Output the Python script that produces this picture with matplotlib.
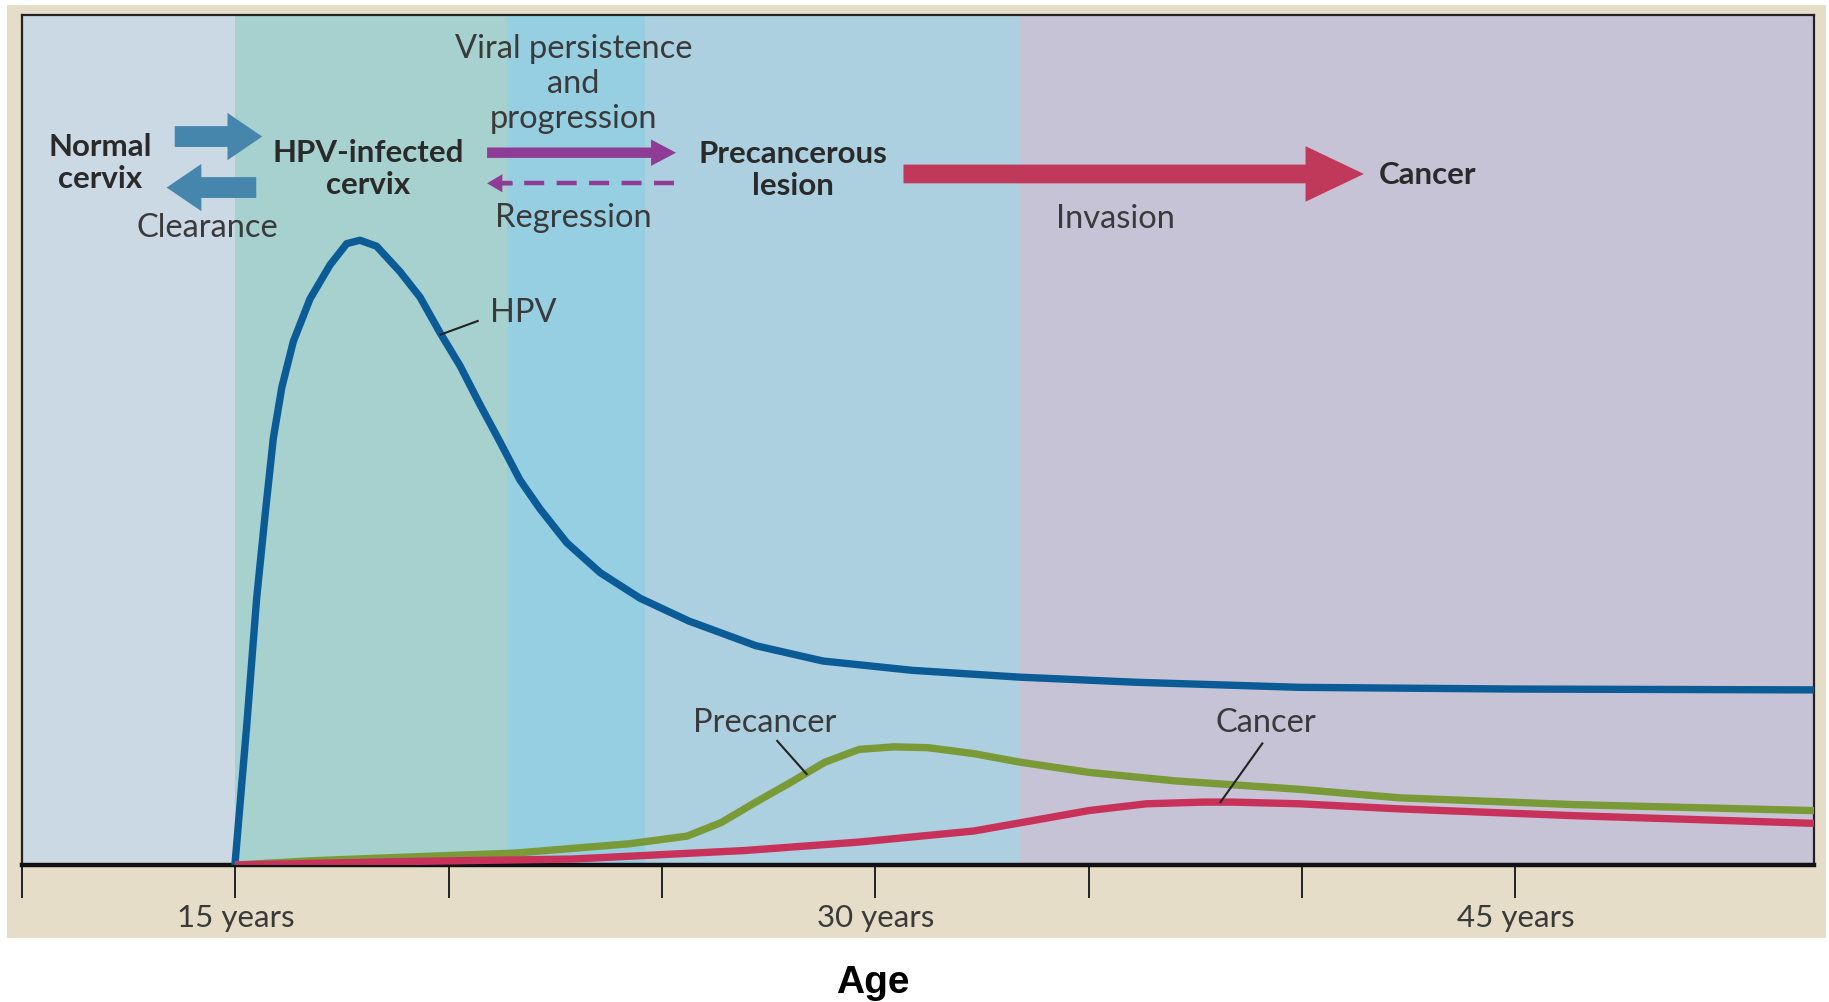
import matplotlib as mpl
import matplotlib.pyplot as plt
from matplotlib.patches import Rectangle

mpl.rcParams['font.family'] = ['Lato', 'DejaVu Sans']

# age (years) and relative prevalence (0-100)
hpv_age = [14.99, 15.27, 15.50, 15.70, 15.89, 16.09, 16.36, 16.75, 17.22, 17.61, 17.92,
           18.31, 18.86, 19.33, 19.80, 20.27, 20.73, 21.20, 21.67, 22.14, 22.77, 23.55,
           24.48, 25.63, 27.20, 28.77, 30.87, 33.38, 36.10, 39.95, 45.0, 52.0]
hpv_val = [0, 16.6, 31.4, 41.3, 50.2, 56.2, 61.6, 66.6, 70.6, 73.1, 73.5,
           72.8, 69.8, 66.8, 62.6, 58.7, 54.2, 49.8, 45.3, 41.9, 37.9, 34.4,
           31.4, 28.7, 25.8, 24.0, 22.9, 22.1, 21.5, 20.9, 20.7, 20.6]

pre_age = [15.0, 16.8, 18.86, 21.55, 24.24, 25.59, 26.39, 27.20, 28.01, 28.82, 29.62,
           30.43, 31.24, 32.31, 33.39, 35.00, 37.02, 39.95, 42.29, 46.39, 52.0]
pre_val = [0, 0.5, 0.9, 1.4, 2.5, 3.4, 5.0, 7.4, 9.7, 12.1, 13.6,
           13.9, 13.8, 13.1, 12.1, 10.9, 9.9, 8.9, 7.9, 7.1, 6.4]

can_age = [15.0, 18.86, 22.89, 26.93, 29.62, 32.31, 33.66, 35.00, 36.35, 37.70, 38.37,
           39.95, 42.29, 46.39, 52.0]
can_val = [0, 0.4, 0.7, 1.7, 2.7, 4.0, 5.2, 6.4, 7.2, 7.4, 7.4,
           7.2, 6.6, 5.8, 4.9]

# background stages (start, end, colour)
stage_edges = [10, 15, 21.37, 24.6, 33.4, 52]
stage_colors = ['#cbd9e4', '#a6d1cf', '#97cfe2', '#add0e1', '#c6c3d6']

tick_pos = [10, 15, 20, 25, 30, 35, 40, 45]
tick_lab = ['', '15 years', '', '', '30 years', '', '', '45 years']

fig = plt.figure(figsize=(18.29, 10.03), dpi=100)
fig.patch.set_facecolor('white')
fig.patches.append(Rectangle((7 / 1829, 1 - 939 / 1003), 1819 / 1829, 933 / 1003,
                             transform=fig.transFigure, facecolor='#e5ddc7',
                             edgecolor='none', zorder=-5))

ax = fig.add_axes([22 / 1829, 1 - 866 / 1003, 1792 / 1829, 850 / 1003])
ax.set_xlim(10, 52)
ax.set_ylim(0, 100)

for i in range(len(stage_colors)):
    ax.axvspan(stage_edges[i], stage_edges[i + 1], color=stage_colors[i], lw=0, zorder=0)

ax.plot(hpv_age, hpv_val, color='#0b5b97', lw=5.3, solid_capstyle='butt',
        solid_joinstyle='round', zorder=3)
ax.plot(pre_age, pre_val, color='#7a9a38', lw=5.3, solid_capstyle='butt',
        solid_joinstyle='round', zorder=3)
ax.plot(can_age, can_val, color='#c8325a', lw=5.3, solid_capstyle='butt',
        solid_joinstyle='round', zorder=3)

for s in ['left', 'right', 'top']:
    ax.spines[s].set_linewidth(1.6)
    ax.spines[s].set_color('#222222')
ax.spines['bottom'].set_linewidth(3.2)
ax.spines['bottom'].set_color('#111111')

ax.set_yticks([])
ax.set_xticks(tick_pos)
ax.set_xticklabels(tick_lab)
ax.tick_params(axis='x', direction='out', length=24, width=1.4, color='#222222',
               pad=3, labelsize=22.5, labelcolor='#3a3a3a')

fig.text(0.477, 1 - 983 / 1003, 'Age', ha='center', va='center', fontsize=28,
         fontweight='bold', family=['Liberation Sans', 'DejaVu Sans'], color='black')

# stage labels
bold = dict(fontsize=22.5, fontweight='bold', color='#2a2a2a', ha='center', va='center',
            linespacing=1.15, zorder=5)
norm = dict(fontsize=23.5, color='#3a3a3a', ha='center', va='center', linespacing=1.2, zorder=5)

ax.text(11.83, 82.7, 'Normal\ncervix', **bold)
ax.text(18.11, 82.0, 'HPV-infected\ncervix', **bold)
ax.text(28.06, 81.9, 'Precancerous\nlesion', **bold)
ax.text(42.95, 81.3, 'Cancer', **bold)

ax.text(14.34, 75.1, 'Clearance', **norm)
ax.text(22.92, 92.0, 'Viral persistence\nand\nprogression', **norm)
ax.text(22.92, 76.2, 'Regression', **norm)
ax.text(35.63, 76.1, 'Invasion', **norm)

# arrows
blue = '#4786ac'
ax.annotate('', xy=(15.63, 85.7), xytext=(13.58, 85.7),
            arrowprops=dict(arrowstyle='simple,head_width=3.4,head_length=2.5,tail_width=1.5',
                            mutation_scale=10, color=blue, lw=0, shrinkA=0, shrinkB=0))
ax.annotate('', xy=(13.39, 79.7), xytext=(15.49, 79.7),
            arrowprops=dict(arrowstyle='simple,head_width=3.4,head_length=2.5,tail_width=1.5',
                            mutation_scale=10, color=blue, lw=0, shrinkA=0, shrinkB=0))

purple = '#8f3c97'
ax.annotate('', xy=(25.33, 83.8), xytext=(20.90, 83.8),
            arrowprops=dict(arrowstyle='simple,head_width=1.9,head_length=1.8,tail_width=0.75',
                            mutation_scale=10, color=purple, lw=0, shrinkA=0, shrinkB=0))
ax.plot([25.28, 21.2], [80.2, 80.2], color=purple, lw=3.2, dashes=(4.5, 2.8))
ax.annotate('', xy=(20.90, 80.2), xytext=(21.5, 80.2),
            arrowprops=dict(arrowstyle='simple,head_width=1.3,head_length=1.1,tail_width=0.3',
                            mutation_scale=10, color=purple, lw=0, shrinkA=0, shrinkB=0))

ax.annotate('', xy=(41.45, 81.3), xytext=(30.66, 81.3),
            arrowprops=dict(arrowstyle='simple,head_width=4.0,head_length=4.2,tail_width=1.35',
                            mutation_scale=10, color='#c0385a', lw=0, shrinkA=0, shrinkB=0))

# curve labels with leader lines
lab = dict(fontsize=23.5, color='#3a3a3a', va='center', zorder=5)
ax.text(20.98, 65.1, 'HPV', ha='left', **lab)
ax.plot([19.81, 20.68], [62.4, 64.0], color='#222222', lw=1.5, zorder=4)
ax.text(27.40, 16.8, 'Precancer', ha='center', **lab)
ax.plot([28.39, 27.70], [10.7, 14.6], color='#222222', lw=1.5, zorder=4)
ax.text(39.15, 16.8, 'Cancer', ha='center', **lab)
ax.plot([38.09, 39.07], [7.4, 14.3], color='#222222', lw=1.5, zorder=4)

fig.savefig('out.png', dpi=100)
